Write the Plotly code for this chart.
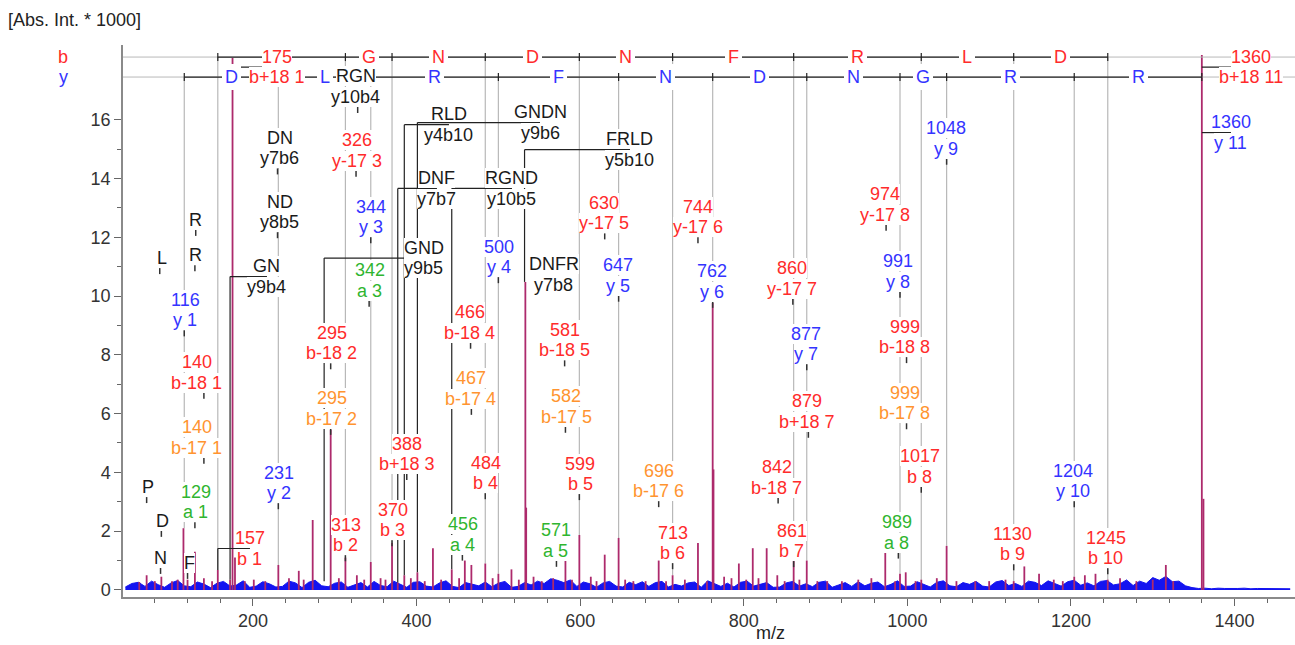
import plotly.graph_objects as go

# ---------------- data ----------------
noise_start = 44
noise_step = 8
noise_int = [
    0.10, 0.22, 0.26, 0.12, 0.30, 0.18, 0.09, 0.24, 0.32, 0.14, 0.11, 0.27, 0.20, 0.08, 0.23, 0.29, 0.13, 0.17, 0.31, 0.09,
    0.13, 0.28, 0.21, 0.10, 0.12, 0.30, 0.24, 0.08, 0.26, 0.33, 0.14, 0.11, 0.23, 0.27, 0.09, 0.18, 0.25, 0.10, 0.29, 0.15,
    0.11, 0.30, 0.19, 0.09, 0.26, 0.28, 0.13, 0.10, 0.24, 0.31, 0.12, 0.08, 0.25, 0.20, 0.14, 0.27, 0.11, 0.23, 0.29, 0.09,
    0.12, 0.25, 0.17, 0.30, 0.22, 0.38, 0.33, 0.25, 0.34, 0.12, 0.27, 0.21, 0.09, 0.24, 0.29, 0.13, 0.10, 0.26, 0.18, 0.28,
    0.12, 0.25, 0.29, 0.10, 0.19, 0.13, 0.24, 0.27, 0.09, 0.31, 0.21, 0.12, 0.23, 0.10, 0.26, 0.30, 0.13, 0.18, 0.25, 0.09,
    0.10, 0.24, 0.29, 0.13, 0.21, 0.11, 0.26, 0.30, 0.09, 0.17, 0.25, 0.12, 0.28, 0.14, 0.23, 0.27, 0.11, 0.19, 0.31, 0.12,
    0.13, 0.28, 0.20, 0.10, 0.26, 0.31, 0.14, 0.11, 0.25, 0.19, 0.29, 0.13, 0.10, 0.27, 0.32, 0.15, 0.22, 0.12, 0.30, 0.26,
    0.15, 0.31, 0.22, 0.13, 0.28, 0.33, 0.16, 0.24, 0.14, 0.29, 0.32, 0.17, 0.21, 0.34, 0.15, 0.30, 0.22, 0.42, 0.33, 0.46,
    0.28, 0.30, 0.14,
    0.08, 0.05, 0.06, 0.04, 0.06, 0.05, 0.04, 0.05, 0.06, 0.04, 0.05, 0.05, 0.04, 0.06, 0.05, 0.04,
]

peak_mz = [61, 70, 80, 88, 101, 108, 115, 120, 129, 140, 150, 157, 172, 175, 178, 190, 201, 215, 231, 244,
           256, 262, 273, 295, 305, 313, 327, 336, 344, 356, 362, 370, 377, 385, 393, 401, 410, 420, 430, 443,
           452, 459, 467, 484, 493, 500, 516, 525, 533, 534, 543, 553, 567, 582, 590, 599, 613, 620, 630, 647,
           655, 665, 680, 696, 705, 713, 728, 744, 755, 762, 763, 776, 785, 794, 803, 811, 818, 828, 841, 850,
           861, 868, 877, 890, 902, 920, 940, 956, 973, 985, 991, 998, 1010, 1017, 1036, 1048, 1060, 1083, 1100,
           1120, 1130, 1143, 1161, 1179, 1190, 1204, 1217, 1230, 1245, 1260, 1280, 1300, 1316, 1325, 1360, 1362]
peak_int = [0.27, 0.5, 0.3, 0.45, 0.3, 0.35, 2.1, 0.35, 1.3, 0.4, 0.3, 0.68, 0.35, 18.1, 1.1, 0.3, 0.35, 0.3, 0.85, 0.4,
            0.65, 0.35, 2.38, 5.45, 0.4, 1.1, 0.5, 0.35, 0.95, 0.4, 0.35, 1.6, 0.25, 0.5, 0.4, 0.6, 0.3, 1.42, 0.35, 0.7,
            0.4, 1.0, 0.85, 0.9, 0.4, 0.55, 0.7, 0.35, 10.48, 2.8, 0.45, 0.3, 0.4, 1.0, 0.35, 1.87, 0.45, 0.3, 1.2, 1.77,
            0.35, 0.3, 0.3, 1.0, 0.3, 0.5, 0.35, 1.6, 0.3, 9.76, 4.1, 0.45, 0.4, 0.9, 0.35, 1.42, 0.4, 1.42, 0.5, 0.3,
            1.0, 0.35, 1.0, 0.3, 0.3, 0.3, 0.35, 0.4, 1.3, 0.3, 0.55, 0.6, 0.3, 0.35, 0.4, 1.5, 0.3, 0.3, 0.3,
            0.35, 0.3, 0.8, 0.55, 0.35, 0.3, 0.45, 0.5, 0.55, 0.35, 0.4, 0.3, 0.35, 0.85, 0.3, 18.2, 3.1]

b_ion_mz = [157, 313, 370, 484, 599, 713, 861, 1017, 1130, 1245]
b_residues = ["R", "G", "N", "D", "N", "F", "R", "L", "D"]
y_ion_mz = [116, 231, 344, 500, 647, 762, 877, 991, 1048, 1204, 1360]
y_residues = ["D", "L", "R", "F", "N", "D", "N", "G", "R", "R"]

ion_mz = [116, 140, 140, 129, 157, 231, 295, 295, 313, 326, 344, 342, 370, 388, 466, 467, 484, 456, 500,
          581, 582, 599, 571, 630, 647, 696, 713, 744, 762, 860, 877, 879, 842, 861, 974, 991, 999, 999,
          1017, 989, 1048, 1130, 1204, 1245, 1360, 1360, 175]
ion_num = ["116", "140", "140", "129", "157", "231", "295", "295", "313", "326", "344", "342", "370", "388",
           "466", "467", "484", "456", "500", "581", "582", "599", "571", "630", "647", "696", "713", "744",
           "762", "860", "877", "879", "842", "861", "974", "991", "999", "999", "1017", "989", "1048", "1130",
           "1204", "1245", "1360", "1360", "175"]
ion_name = ["y 1", "b-18 1", "b-17 1", "a 1", "b 1", "y 2", "b-18 2", "b-17 2", "b 2", "y-17 3", "y 3", "a 3",
            "b 3", "b+18 3", "b-18 4", "b-17 4", "b 4", "a 4", "y 4", "b-18 5", "b-17 5", "b 5", "a 5", "y-17 5",
            "y 5", "b-17 6", "b 6", "y-17 6", "y 6", "y-17 7", "y 7", "b+18 7", "b-18 7", "b 7", "y-17 8", "y 8",
            "b-18 8", "b-17 8", "b 8", "a 8", "y 9", "b 9", "y 10", "b 10", "y 11", "b+18 11", "b+18 1"]
ion_kind = ["y", "b", "o", "a", "b", "y", "b", "o", "b", "b", "y", "a", "b", "b", "b", "o", "b", "a", "y",
            "b", "o", "b", "a", "b", "y", "o", "b", "b", "y", "b", "y", "b", "b", "b", "b", "y", "b", "o",
            "b", "a", "y", "b", "y", "b", "y", "b", "b"]

internal_mz = [86, 130, 129, 70, 88, 87, 120, 230, 230, 172, 328, 385, 401, 377, 443, 287, 532, 533]
internal_text = [["L"], ["R"], ["R"], ["P"], ["D"], ["N"], ["F"], ["DN", "y7b6"], ["ND", "y8b5"], ["GN", "y9b4"],
                 ["RGN", "y10b4"], ["RLD", "y4b10"], ["GNDN", "y9b6"], ["DNF", "y7b7"], ["RGND", "y10b5"],
                 ["GND", "y9b5"], ["FRLD", "y5b10"], ["DNFR", "y7b8"]]

# ---------------- layout (label placement) ----------------
ion_label_x = [116.9, 131.5, 131.5, 130.3, 196.3, 231.8, 296.6, 296.6, 313.7, 327.1, 344.3, 343.0, 371.1, 388.3,
               465.3, 466.5, 484.8, 456.7, 500.7, 581.4, 582.7, 599.8, 570.4, 629.1, 646.2, 696.3, 713.4, 744.0,
               761.1, 858.9, 876.0, 877.3, 840.6, 858.9, 972.6, 988.5, 997.1, 997.1, 1015.4, 987.3, 1047.2,
               1129.1, 1202.4, 1242.8, 1395.6, 1420.0, 229.3]
ion_label_y = [9.52, 7.40, 5.19, 2.99, 1.41, 3.64, 8.40, 6.17, 1.87, 14.95, 12.69, 10.53, 2.38, 4.63,
               9.10, 6.85, 3.98, 1.89, 11.33, 8.50, 6.24, 3.95, 1.68, 12.82, 10.70, 3.71, 1.60, 12.69,
               10.49, 10.60, 8.37, 6.07, 3.83, 1.67, 13.11, 10.83, 8.61, 6.36, 4.20, 1.96, 15.36,
               1.56, 3.71, 1.43, 15.56, 17.79, 17.79]
ion_bracket = [i in (4, 44, 45, 46) for i in range(len(ion_mz))]

internal_label_x = [89.0, 130.3, 130.3, 71.6, 89.0, 87.5, 121.8, 233.0, 233.0, 217.1, 325.9, 439.6, 550.9,
                    424.9, 516.6, 409.0, 660.9, 567.9]
internal_label_y = [11.29, 12.59, 11.39, 3.50, 2.35, 1.09, 0.92, 15.03, 12.86, 10.66, 17.12, 15.83, 15.90,
                    13.66, 13.66, 11.29, 14.98, 10.73]
internal_bracket = [False] * 9 + [True, False, True, True, True, True, True, True, False]
internal_tick = [True] * 17 + [False]
internal_opaque = [True] * 11 + [False] + [True] * 6
b_residue_hidden = {0}   # covered by the "175 / b+18 1" label in the ladder

X_RANGE = [41.1, 1473.9]
Y_RANGE = [-0.24, 18.54]
ROW_B, ROW_Y = 18.13, 17.45
W, H = 1295, 645
M_L, M_R, M_T, M_B = 123, 0, 45, 48
PX_X = (W - M_L - M_R) / (X_RANGE[1] - X_RANGE[0])
PX_Y = (H - M_T - M_B) / (Y_RANGE[1] - Y_RANGE[0])
FS = 18
LINE_GAP = 20.5   # px between the two text lines of a label
FONT = "Liberation Sans, Arial, sans-serif"

COL = {"b": "#ff2b2b", "y": "#3434ff", "o": "#ff9430", "a": "#2fb52f", "k": "#1a1a1a"}
GRAY = "#b8b8b8"
BLACK = "#222222"
PEAK = "#ad2a6c"
NOISE = "#1414f0"


def peak_top(m):
    best = None
    for pm, pi in zip(peak_mz, peak_int):
        if abs(pm - m) <= 3 and (best is None or abs(pm - m) < abs(best[0] - m)):
            best = (pm, pi)
    return best[1] if best else 0.3


def seg(x0, y0, x1, y1, color, width=1.0, layer="above"):
    return dict(type="line", xref="x", yref="y", x0=x0, y0=y0, x1=x1, y1=y1,
                line=dict(color=color, width=width), layer=layer)


fig = go.Figure()

# noise baseline
noise_mz = [noise_start + i * noise_step for i in range(len(noise_int))]
fig.add_trace(go.Scatter(x=noise_mz, y=noise_int, mode="lines", fill="tozeroy",
                         line=dict(color=NOISE, width=1), fillcolor=NOISE, hoverinfo="skip"))

# peak sticks
sx, sy = [], []
for m, h in zip(peak_mz, peak_int):
    sx += [m, m, None]
    sy += [0, h, None]
fig.add_trace(go.Scatter(x=sx, y=sy, mode="lines", line=dict(color=PEAK, width=1.8), hoverinfo="skip"))

shapes = []
# ladder rows
for row, ions in ((ROW_B, b_ion_mz), (ROW_Y, y_ion_mz)):
    shapes.append(seg(X_RANGE[0], row, X_RANGE[1], row, GRAY, 1))
    shapes.append(seg(ions[0], row, ions[-1], row, BLACK, 1.2))
    for m in ions:
        shapes.append(seg(m, row - 4 / PX_Y, m, row + 4 / PX_Y, BLACK, 1.2))
        top = peak_top(m)
        if top < row:
            shapes.append(seg(m, row, m, top, GRAY, 1.2, layer="below"))

annotations = []


def add_text(x, y, text, color, opaque=True, pad=0, xref="x", yref="y", xanchor="center", size=FS):
    annotations.append(dict(x=x, y=y, xref=xref, yref=yref, text=text, showarrow=False,
                            xanchor=xanchor, yanchor="middle", font=dict(family=FONT, size=size, color=color),
                            bgcolor="white" if opaque else "rgba(0,0,0,0)", borderpad=pad, borderwidth=0))


def add_label(x, y, lines, color, opaque=True):
    n = len(lines)
    for i, t in enumerate(lines):
        off = ((n - 1) / 2 - i) * LINE_GAP / PX_Y
        add_text(x, y + off, t, color, opaque=opaque)


# ladder residue letters
for ions, res, row, c, hidden in ((b_ion_mz, b_residues, ROW_B, COL["b"], b_residue_hidden),
                                  (y_ion_mz, y_residues, ROW_Y, COL["y"], set())):
    for i, r in enumerate(res):
        if i in hidden:
            continue
        add_text((ions[i] + ions[i + 1]) / 2, row, r, c, pad=3)


def label_marks(m, lx, ly, nlines, bracket, tick=True):
    if bracket:
        shapes.append(seg(m, ly, lx, ly, BLACK, 1.2))
        top = peak_top(m)
        if top < ly:
            shapes.append(seg(m, ly, m, top, BLACK, 1.2))
    elif tick:
        last = ly - (nlines - 1) * LINE_GAP / 2 / PX_Y
        shapes.append(seg(m, last - 10 / PX_Y, m, last - 16 / PX_Y, "#333333", 1.5))


# internal / immonium labels
for m, t, lx, ly, br, tk, op in zip(internal_mz, internal_text, internal_label_x, internal_label_y,
                                    internal_bracket, internal_tick, internal_opaque):
    label_marks(m, lx, ly, len(t), br, tk)
    add_label(lx, ly, t, COL["k"], opaque=op)

# ion labels
for m, n, nm, k, lx, ly, br in zip(ion_mz, ion_num, ion_name, ion_kind, ion_label_x, ion_label_y, ion_bracket):
    label_marks(m, lx, ly, 2, br)
    add_label(lx, ly, [n, nm], COL[k])

# series tags, titles
plot_w = W - M_L - M_R
plot_h = H - M_T - M_B
add_text((63 - M_L) / plot_w, ROW_B, "b", COL["b"], opaque=False, xref="paper")
add_text((63 - M_L) / plot_w, ROW_Y, "y", COL["y"], opaque=False, xref="paper")
add_text((8 - M_L) / plot_w, (H - M_B - 20) / plot_h, "[Abs. Int. * 1000]", "#222222", opaque=False,
         xref="paper", yref="paper", xanchor="left")
add_text((770 - M_L) / plot_w, (H - M_B - 633) / plot_h, "m/z", "#222222", opaque=False,
         xref="paper", yref="paper")

axis_common = dict(showline=True, linecolor="#8a8a8a", linewidth=1.5, ticks="outside", ticklen=7,
                   tickcolor="#666666", tickwidth=1, showgrid=False, zeroline=False,
                   tickfont=dict(family=FONT, size=FS, color="#333333"))

fig.update_layout(
    width=W, height=H,
    margin=dict(l=M_L, r=M_R, t=M_T, b=M_B),
    plot_bgcolor="white", paper_bgcolor="white",
    showlegend=False,
    xaxis=dict(range=X_RANGE, tickmode="linear", tick0=0, dtick=200,
               minor=dict(dtick=40, tick0=0, ticks="outside", ticklen=4, tickcolor="#666666"),
               **axis_common),
    yaxis=dict(range=Y_RANGE, tickmode="array", tickvals=list(range(0, 17, 2)),
               minor=dict(tickmode="array", tickvals=list(range(1, 16, 2)), ticks="outside", ticklen=4,
                          tickcolor="#666666"),
               **axis_common),
    shapes=shapes,
    annotations=annotations,
)

fig.write_html("out.html")
